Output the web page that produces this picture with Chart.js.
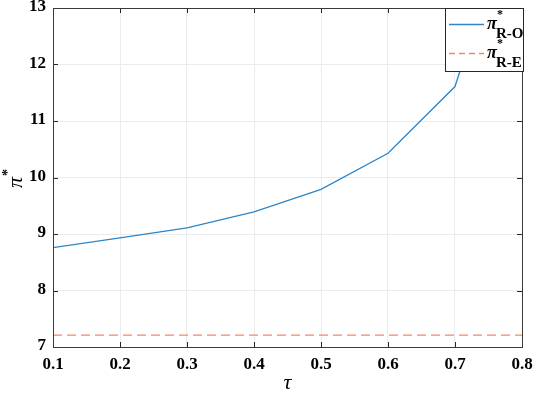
<!DOCTYPE html>
<html><head><meta charset="utf-8">
<script src="https://cdn.jsdelivr.net/npm/chart.js@4/dist/chart.umd.min.js"></script>
<style>html,body{margin:0;padding:0;background:#fff}#wrap{width:536px;height:395px;position:relative}</style>
</head><body><div id="wrap"><canvas id="c" width="536" height="395"></canvas></div>
<script>
const tau = [0.1, 0.2, 0.3, 0.4, 0.5, 0.6, 0.7, 0.8];
const piRO = [8.76, 8.93, 9.11, 9.39, 9.79, 10.43, 11.61, 15.3];
const piRE = [7.21, 7.21, 7.21, 7.21, 7.21, 7.21, 7.21, 7.21];
const xTicks = [0.1, 0.2, 0.3, 0.4, 0.5, 0.6, 0.7, 0.8];
const yTicks = [7, 8, 9, 10, 11, 12, 13];
const xTickLabels = ['0.1', '0.2', '0.3', '0.4', '0.5', '0.6', '0.7', '0.8'];
const yTickLabels = ['7', '8', '9', '10', '11', '12', '13'];
const seriesNames = ['R-O', 'R-E'];

const BLUE = '#2d86c9', ORANGE = '#ee8a62';

const frame = {
  id: 'frame',
  afterDatasetsDraw(chart) {
    const {ctx, chartArea: a, scales: {x, y}} = chart;
    ctx.save();
    ctx.strokeStyle = '#262626'; ctx.lineWidth = 1;
    ctx.beginPath();
    xTicks.forEach(v => { const px = Math.round(x.getPixelForValue(v)) + 0.5;
      ctx.moveTo(px, a.bottom); ctx.lineTo(px, a.bottom - 5);
      ctx.moveTo(px, a.top); ctx.lineTo(px, a.top + 5); });
    yTicks.forEach(v => { const py = Math.round(y.getPixelForValue(v)) + 0.5;
      ctx.moveTo(a.left, py); ctx.lineTo(a.left + 5, py);
      ctx.moveTo(a.right, py); ctx.lineTo(a.right - 5, py); });
    ctx.stroke();
    ctx.strokeStyle = '#3a3a3a';
    ctx.strokeRect(Math.round(a.left) + 0.5, Math.round(a.top) + 0.5, Math.round(a.right - a.left), Math.round(a.bottom - a.top));
    // tick labels
    ctx.fillStyle = '#000';
    ctx.font = 'bold 17px Liberation Serif';
    ctx.textAlign = 'center'; ctx.textBaseline = 'alphabetic';
    xTicks.forEach((v, i) => ctx.fillText(xTickLabels[i], x.getPixelForValue(v), 369));
    ctx.textAlign = 'right'; ctx.textBaseline = 'middle';
    yTicks.forEach((v, i) => ctx.fillText(yTickLabels[i], 46, y.getPixelForValue(v) - 1));
    // axis titles
    ctx.font = 'italic 22px Liberation Serif';
    ctx.textAlign = 'center'; ctx.textBaseline = 'middle';
    ctx.fillText('\u03C4', (a.left + a.right) / 2, 383);
    ctx.save();
    ctx.translate(16, 182); ctx.rotate(-Math.PI / 2);
    ctx.textAlign = 'left'; ctx.textBaseline = 'alphabetic';
    ctx.font = 'italic 22px Liberation Serif';
    ctx.fillText('\u03C0', -6, 6);
    ctx.font = 'bold 14px Liberation Serif';
    ctx.fillText('*', 6, -4);
    ctx.restore();
    // legend
    const lx = 445, ly = 8, lw = 78, lh = 63;
    ctx.fillStyle = '#fff';
    ctx.fillRect(lx, ly, lw, lh);
    ctx.strokeStyle = '#262626';
    ctx.strokeRect(lx + 0.5, ly + 0.5, lw, lh);
    const rows = [{y: 24, c: BLUE, dash: []}, {y: 53, c: ORANGE, dash: [6, 4]}];
    rows.forEach((r, i) => {
      ctx.strokeStyle = r.c; ctx.lineWidth = 1.3; ctx.setLineDash(r.dash);
      ctx.beginPath(); ctx.moveTo(449, r.y + 0.5); ctx.lineTo(484, r.y + 0.5); ctx.stroke();
      ctx.setLineDash([]);
      ctx.fillStyle = '#000'; ctx.textAlign = 'left'; ctx.textBaseline = 'alphabetic';
      ctx.font = 'italic bold 18px Liberation Serif';
      ctx.fillText('\u03C0', 487, r.y + 5);
      ctx.font = 'bold 12px Liberation Serif';
      ctx.fillText('*', 497, r.y - 6);
      ctx.font = 'bold 15px Liberation Serif';
      ctx.fillText(seriesNames[i], 496, r.y + 14);
    });
    ctx.restore();
  }
};

new Chart(document.getElementById('c'), {
  type: 'line',
  data: {
    datasets: [
      {data: tau.map((t, i) => ({x: t, y: piRO[i]})), borderColor: BLUE, borderWidth: 1.3, pointRadius: 0, fill: false, tension: 0},
      {data: tau.map((t, i) => ({x: t, y: piRE[i]})), borderColor: ORANGE, borderWidth: 1.3, borderDash: [9, 5], pointRadius: 0, fill: false, tension: 0}
    ]
  },
  options: {
    responsive: false, animation: false,
    layout: {padding: {top: 8, right: 14, left: 0, bottom: 0}},
    plugins: {legend: {display: false}, tooltip: {enabled: false}},
    scales: {
      x: {type: 'linear', min: 0.1, max: 0.8,
        afterBuildTicks: s => { s.ticks = xTicks.map(v => ({value: v})); },
        afterFit: s => { s.height = 48; },
        grid: {color: '#ebebeb', drawTicks: false},
        border: {display: false},
        ticks: {display: false}
      },
      y: {type: 'linear', min: 7, max: 13,
        afterBuildTicks: s => { s.ticks = yTicks.map(v => ({value: v})); },
        afterFit: s => { s.width = 53; },
        grid: {color: '#ebebeb', drawTicks: false},
        border: {display: false},
        ticks: {display: false}
      }
    }
  },
  plugins: [frame]
});
</script></body></html>
